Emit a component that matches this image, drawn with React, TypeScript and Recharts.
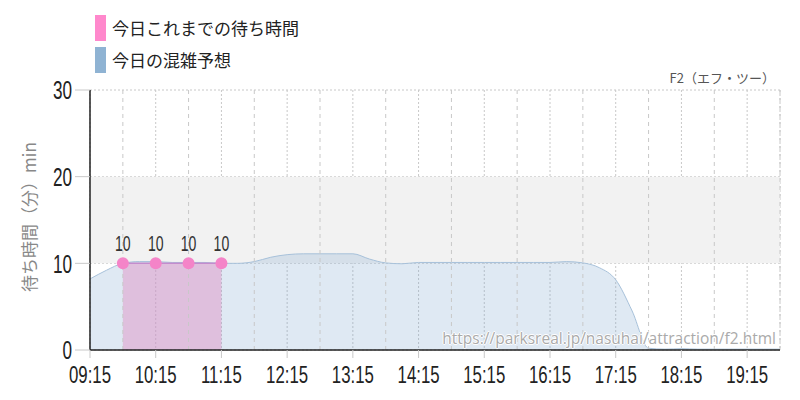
import { ComposedChart, Area, XAxis, YAxis, CartesianGrid, ReferenceArea, ReferenceLine, LabelList } from 'recharts';

const predTimes = [
  '09:15', '09:30', '09:45', '10:00', '10:15', '10:30', '10:45', '11:00', '11:15', '11:30', '11:45',
  '12:00', '12:15', '12:30', '12:45', '13:00', '13:15', '13:30', '13:45', '14:00', '14:15', '14:30',
  '14:45', '15:00', '15:15', '15:30', '15:45', '16:00', '16:15', '16:30', '16:45', '17:00', '17:15',
  '17:30', '17:45', '18:00', '18:15', '18:30', '18:45', '19:00', '19:15', '19:30', '19:45',
];
const predValues = [
  8.2, 9.2, 10.0, 10.2, 10.2, 10.1, 10.1, 10.1, 10.0, 10.0, 10.2,
  10.7, 11.0, 11.1, 11.1, 11.1, 11.1, 10.5, 10.05, 9.95, 10.1, 10.1,
  10.1, 10.1, 10.1, 10.1, 10.1, 10.1, 10.1, 10.2, 10.05, 9.5, 8.1,
  4.5, 0.2, 0.1, 0.15, 0.1, 0.1, 0.1, 0.1, 0.1, 0.1,
];
const actualTimes = ['09:45', '10:15', '10:45', '11:15'];
const actualValues = [10, 10, 10, 10];
const xTickLabels = ['09:15', '10:15', '11:15', '12:15', '13:15', '14:15', '15:15', '16:15', '17:15', '18:15', '19:15'];
const halfHourLines = ['09:45', '10:45', '11:45', '12:45', '13:45', '14:45', '15:45', '16:45', '17:45', '18:45', '19:45'];
const yTicks = [0, 10, 20, 30];

const toMin = (t: string) => {
  const [h, m] = t.split(':').map(Number);
  return h * 60 + m;
};
const fmt = (v: number) => `${String(Math.floor(v / 60)).padStart(2, '0')}:${String(v % 60).padStart(2, '0')}`;

const rows = predTimes.map((t, i) => {
  const k = actualTimes.indexOf(t);
  return { t: toMin(t), pred: predValues[i], actual: k >= 0 ? actualValues[k] : undefined };
});

const numFont = "'Liberation Sans', Arial, sans-serif";
const jp = "'Noto Sans CJK JP', 'Noto Sans', sans-serif";

// narrow text: squeeze horizontally around its anchor
const Narrow = ({ x, y, text, anchor, dy, size, sx, fill = '#222' }: any) => (
  <text
    x={x} y={y} dy={dy} textAnchor={anchor} fontSize={size} fill={fill} fontFamily={numFont}
    transform={`translate(${x},0) scale(${sx},1) translate(${-x},0)`}
  >
    {text}
  </text>
);

const XTick = ({ x, y, payload }: any) => <Narrow x={x} y={y} dy="0.72em" anchor="middle" size={24} sx={0.7} text={fmt(payload.value)} />;
const YTick = ({ x, y, payload }: any) => <Narrow x={x} y={y} dy="0.36em" anchor="end" size={26} sx={0.66} text={payload.value} />;
const DotLabel = ({ x, y, value }: any) => <Narrow x={x} y={y - 12} dy="0" anchor="middle" size={22} sx={0.64} fill="#333" text={value} />;

export default function App() {
  return (
    <div style={{ position: 'absolute', left: 0, top: 0, width: 800, height: 400, background: '#fff', fontFamily: jp }}>
      <ComposedChart width={800} height={400} data={rows} margin={{ top: 90, right: 20, bottom: 20, left: 0 }}>
        <ReferenceArea y1={10} y2={20} fill="#f2f2f2" fillOpacity={1} stroke="none" />
        <CartesianGrid stroke="#c8c8c8" strokeDasharray="2 2" />
        {halfHourLines.map((t) => (
          <ReferenceLine key={t} x={toMin(t)} stroke="#c8c8c8" strokeDasharray="4 4" />
        ))}
        <XAxis
          dataKey="t" type="number" domain={[toMin('09:15'), toMin('19:45')]}
          ticks={xTickLabels.map(toMin)} interval={0} height={30}
          tick={<XTick />}
          tickLine={{ stroke: '#c8c8c8' }} tickSize={8} tickMargin={8}
          axisLine={{ stroke: '#222', strokeWidth: 1.5 }}
        />
        <YAxis
          domain={[0, 30]} ticks={yTicks} width={90} interval={0}
          tick={<YTick />}
          tickLine={{ stroke: '#c8c8c8' }} tickSize={15} tickMargin={3}
          axisLine={{ stroke: '#222', strokeWidth: 1.5 }}
        />
        <Area
          type="monotone" dataKey="pred" stroke="#a7c1da" strokeWidth={1}
          fill="#749fcb" fillOpacity={0.23} dot={false} activeDot={false} isAnimationActive={false}
        />
        <Area
          type="linear" dataKey="actual" connectNulls stroke="#c48ccd" strokeWidth={1.5}
          fill="#e08cc4" fillOpacity={0.45}
          dot={{ r: 6, fill: '#f484c8', fillOpacity: 1, stroke: 'none' }} activeDot={false} isAnimationActive={false}
        >
          <LabelList dataKey="actual" content={<DotLabel />} />
        </Area>
      </ComposedChart>

      <div style={{ position: 'absolute', left: 95, top: 15, width: 11, height: 26, background: '#ff88cc' }} />
      <div style={{ position: 'absolute', left: 112, top: 15, height: 26, lineHeight: '26px', fontSize: 17, color: '#222' }}>今日これまでの待ち時間</div>
      <div style={{ position: 'absolute', left: 95, top: 47, width: 11, height: 26, background: '#8fb3d3' }} />
      <div style={{ position: 'absolute', left: 112, top: 47, height: 26, lineHeight: '26px', fontSize: 17, color: '#222' }}>今日の混雑予想</div>

      <div style={{ position: 'absolute', right: 25, top: 68, fontSize: 13, color: '#555', whiteSpace: 'nowrap' }}>F2（エフ・ツー）</div>

      <div style={{
        position: 'absolute', left: 28, top: 217, transform: 'translate(-50%, -50%) rotate(-90deg)',
        fontSize: 17, color: '#888', whiteSpace: 'nowrap',
      }}>待ち時間（分）min</div>

      <div style={{
        position: 'absolute', right: 24, top: 327, fontSize: 15.5, color: '#aaa', whiteSpace: 'nowrap',
        fontFamily: "'Open Sans', sans-serif",
        textShadow: '1px 0 #fff, -1px 0 #fff, 0 1px #fff, 0 -1px #fff',
      }}>https://parksreal.jp/nasuhai/attraction/f2.html</div>
    </div>
  );
}
